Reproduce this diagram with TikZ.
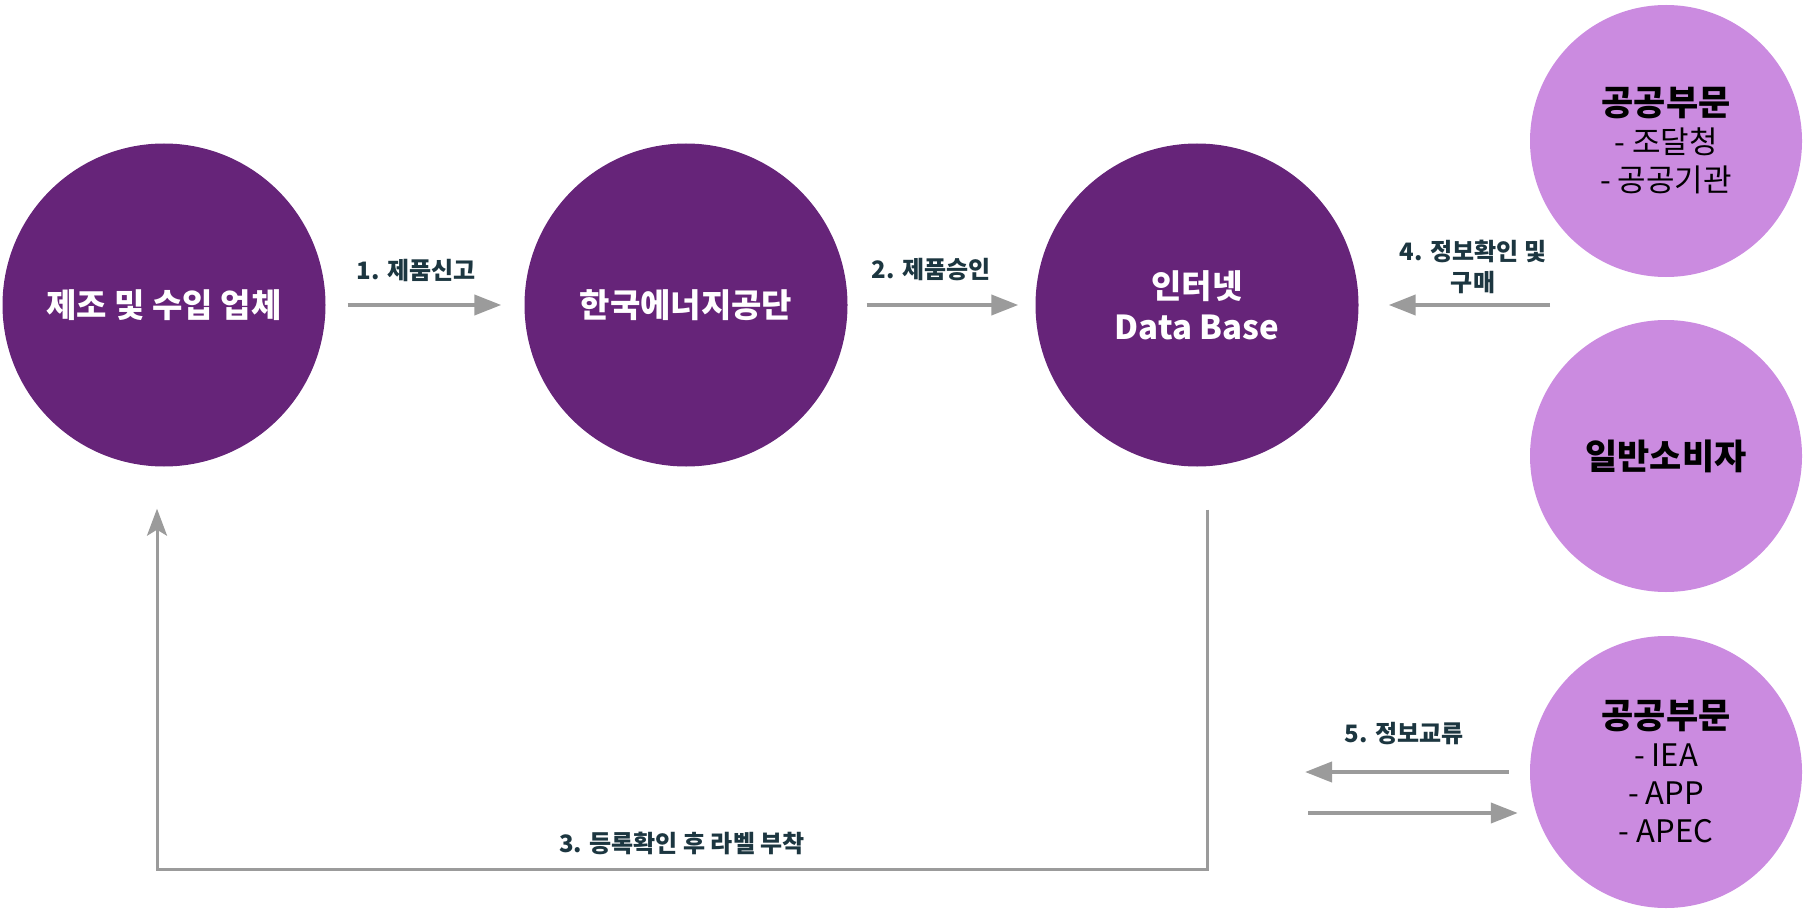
\documentclass[tikz,border=0pt]{standalone}
\usepackage{fontspec}
\setmainfont{Noto Sans CJK KR}
\usepackage{xcolor}
\usetikzlibrary{arrows.meta,positioning}
\definecolor{deeppurple}{RGB}{102,36,121}
\definecolor{lilac}{RGB}{203,139,224}
\definecolor{flowgray}{RGB}{155,155,155}
\definecolor{labelink}{RGB}{28,54,64}

\begin{document}
\begin{tikzpicture}[x=1pt, y=-1pt,
    stage/.style={circle, fill=deeppurple, text=white, minimum size=323pt, inner sep=0pt, align=center, font=\fontsize{33}{41}\selectfont\bfseries},
    party/.style={circle, fill=lilac, text=black, minimum size=272pt, inner sep=0pt, align=center, font=\fontsize{31}{38}\selectfont},
    flow/.style={-{Triangle[length=27pt, width=20pt]}, line width=4pt, draw=flowgray},
    link/.style={-{Stealth[length=27pt, width=20pt, inset=6pt]}, line width=3pt, draw=flowgray},
    steplabel/.style={text=labelink, align=center, font=\fontsize{24}{31}\selectfont\bfseries}
]
    \useasboundingbox (0,0) rectangle (1804,912);

    \node[stage] (maker) at (164,305) {제조 및 수입 업체};
    \node[stage] (agency) at (686,305) {한국에너지공단};
    \node[stage] (db) at (1197,305) {인터넷\\Data Base};

    \node[party] (public) at (1666,141) {{\fontsize{35}{40}\selectfont\bfseries 공공부문}\\- 조달청\\- 공공기관};
    \node[party] (consumer) at (1666,456) {\fontsize{35}{40}\selectfont\bfseries 일반소비자};
    \node[party] (intl) at (1666,772) {{\fontsize{35}{40}\selectfont\bfseries 공공부문}\\- IEA\\- APP\\- APEC};

    \coordinate (buyers) at (1550,305);
    \coordinate (exout) at (1305,772);
    \coordinate (exin) at (1308,813);

    \draw[flow, shorten <=22pt, shorten >=23pt] (maker) -- (agency);
    \draw[flow, shorten <=19pt, shorten >=17pt] (agency) -- (db);
    \draw[flow, shorten >=30pt] (buyers) -- (db);
    \draw[link] ([xshift=10pt,yshift=-43pt]db.south) -- ++(0,360) -| ([xshift=-7pt,yshift=-42pt]maker.south);
    \draw[flow] ([xshift=-21pt]intl.west) -- (exout);
    \draw[flow] (exin) -- ([xshift=-12pt,yshift=-41pt]intl.west);

    \node[steplabel] (l1) at (416,270) {1. 제품신고};
    \node[steplabel] (l2) at (931,270) {2. 제품승인};
    \node[steplabel] (l3) at (682,843) {3. 등록확인 후 라벨 부착};
    \node[steplabel] (l4) at (1473,267) {4. 정보확인 및\\구매};
    \node[steplabel] (l5) at (1404,734) {5. 정보교류};
\end{tikzpicture}
\end{document}
